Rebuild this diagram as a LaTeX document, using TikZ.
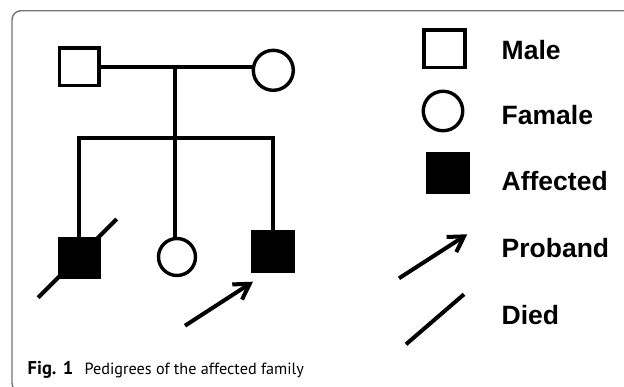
\documentclass[tikz,border=0pt]{standalone}
\usepackage{fontspec}
\setmainfont{Liberation Sans}
\newfontfamily\capfont{PT Sans}
\usetikzlibrary{arrows.meta}
\begin{document}
\begin{tikzpicture}[x=1pt,y=-1pt,
  pedline/.style={line width=4pt},
  malebox/.style={draw,line width=3.8pt,minimum width=39.2pt,minimum height=37.8pt,inner sep=0pt},
  femalecirc/.style={draw,circle,line width=3.4pt,minimum size=40pt,inner sep=0pt},
  affbox/.style={malebox,fill=black},
  probarrow/.style={pedline,-{Straight Barb[length=15pt,width=18pt]}},
  legtext/.style={anchor=base west,inner sep=0pt,font=\fontsize{26.5}{30}\selectfont\bfseries},
  captext/.style={anchor=base west,inner sep=0pt,font=\capfont\fontsize{16.2}{18}\selectfont},
  frameline/.style={draw=black!55,line width=1.4pt,rounded corners=9pt}
]
\useasboundingbox (0,0) rectangle (624,386);
\clip (0,0) rectangle (624,386);

% rounded panel border (top and left edges)
\draw[frameline] (640,10.7) -- (12,10.7) -- (12,392) -- (40,392);

% parents
\node[malebox] (father) at (79,66.5) {};
\node[femalecirc,minimum size=40pt] (mother) at (273.3,70.3) {};
\coordinate (mate) at (175,67);
\coordinate (sibmid) at (175,138);
\draw[pedline] (father.east) -- (father.east -| mother.west);
\draw[pedline] (mate) -- (sibmid);

% children
\node[affbox] (son1) at (79,258) {};
\node[femalecirc,minimum size=37pt] (daughter) at (177,257) {};
\node[affbox,minimum width=40.5pt,minimum height=39pt] (son2) at (273,251.3) {};
\draw[pedline] (son1.north) |- (sibmid) -| (son2.north);
\draw[pedline] (sibmid) -- (sibmid |- daughter.north);

% deceased mark on the first son
\coordinate (dieA) at (38,297.7);
\coordinate (dieB) at (116.7,219);
\draw[pedline] (dieA) -- (dieB);

% proband arrow
\coordinate (probA) at (185,325.7);
\coordinate (probB) at (253,281.7);
\draw[probarrow] (probA) -- (probB);

% legend
\node[malebox,minimum width=41.2pt,minimum height=37.5pt] (lmale) at (444.2,48.7) {};
\node[femalecirc,minimum size=39.5pt] (lfemale) at (443,111) {};
\node[affbox,minimum width=40.5pt,minimum height=38.2pt] (laff) at (447.8,173) {};
\coordinate (lprobA) at (399,278.3);
\coordinate (lprobB) at (467.3,234.3);
\draw[probarrow] (lprobA) -- (lprobB);
\coordinate (ldieA) at (406,344.3);
\coordinate (ldieB) at (464,294.3);
\draw[pedline] (ldieA) -- (ldieB);

\node[legtext] (tmale) at (501.5,59) {Male};
\node[legtext] (tfemale) at (501.5,124.5) {Famale};
\node[legtext] (taff) at (501.5,190.5) {Affected};
\node[legtext] (tprob) at (501.5,257) {Proband};
\node[legtext] (tdied) at (501.5,324) {Died};

% caption
\node[captext] (caption) at (27.5,374) {{\fontsize{18.5}{20}\selectfont\bfseries Fig. 1}\hspace{0.7em}Pedigrees of the affected family};
\end{tikzpicture}
\end{document}
